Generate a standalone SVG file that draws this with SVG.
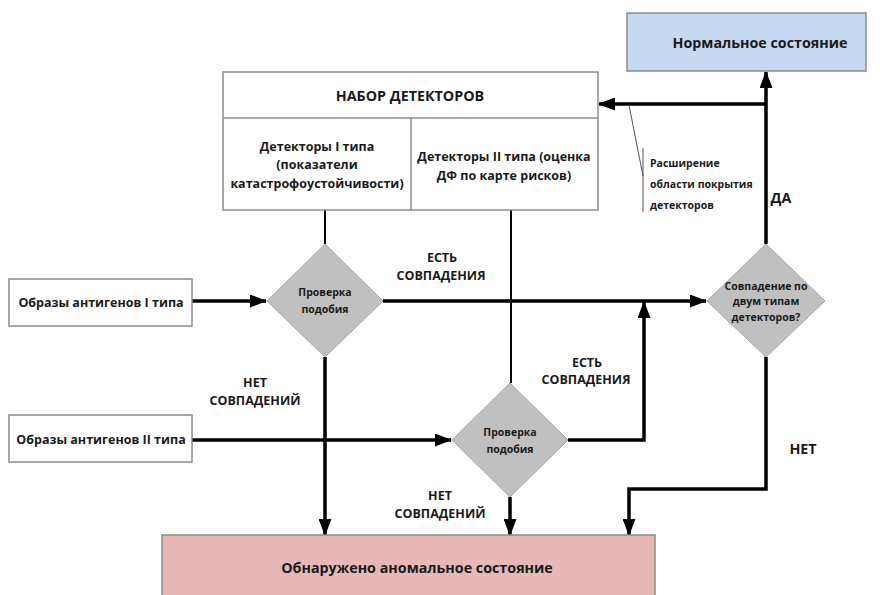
<svg xmlns="http://www.w3.org/2000/svg" width="882" height="595" viewBox="0 0 882 595">
<defs>
<marker id="ah" markerWidth="17" markerHeight="13" refX="16" refY="6.5" orient="auto" markerUnits="userSpaceOnUse">
<path d="M0,0 L17,6.5 L0,13 Z" fill="#000"/>
</marker>
</defs>
<style>
text{font-family:"Open Sans","Liberation Sans",sans-serif;font-weight:bold;fill:#1a1a1a;text-anchor:middle}
.box{fill:#fff;stroke:#8c8c8c;stroke-width:1.5}
.dia{fill:#c0c0c0;stroke:#a6a6a6;stroke-width:1}
.c{fill:none;stroke:#000;stroke-width:3.5}
.t{fill:none;stroke:#000;stroke-width:2}
.s{font-size:12.5px}
.xs{font-size:10.5px}
.lb{font-size:14.3px}
</style>
<rect width="882" height="595" fill="#fff"/>
<g id="connectors">
<line class="t" x1="325" y1="210" x2="325" y2="244"/>
<line class="t" x1="511" y1="210" x2="511" y2="383"/>
<line class="c" x1="192" y1="301" x2="266" y2="301" marker-end="url(#ah)"/>
<line class="c" x1="383" y1="301" x2="706" y2="301" marker-end="url(#ah)"/>
<line class="c" x1="192" y1="440" x2="451" y2="440" marker-end="url(#ah)"/>
<polyline class="c" points="568,440 644,440 644,302" marker-end="url(#ah)"/>
<line class="c" x1="325" y1="357" x2="325" y2="535" marker-end="url(#ah)"/>
<line class="c" x1="510" y1="497" x2="510" y2="535" marker-end="url(#ah)"/>
<polyline class="c" points="766,357 766,489 629,489 629,535" marker-end="url(#ah)"/>
<line class="c" x1="766" y1="244" x2="766" y2="72" marker-end="url(#ah)"/>
<polyline class="c" points="766,104 599,104" marker-end="url(#ah)"/>
<polyline fill="none" stroke="#555" stroke-width="1" points="629,105 643,176"/>
<line stroke="#555" stroke-width="1" x1="643" y1="148" x2="643" y2="212"/>
</g>
<g id="detectors">
<rect class="box" x="223" y="72" width="375" height="138"/>
<line stroke="#8c8c8c" stroke-width="1.5" x1="223" y1="118" x2="598" y2="118"/>
<line stroke="#8c8c8c" stroke-width="1.5" x1="411" y1="118" x2="411" y2="210"/>
<text class="lb" x="410" y="101">НАБОР ДЕТЕКТОРОВ</text>
<text class="s" x="317" y="151">Детекторы I типа</text>
<text class="s" x="317" y="169">(показатели</text>
<text class="s" x="317" y="188">катастрофоустойчивости)</text>
<text class="s" x="504" y="161">Детекторы II типа (оценка</text>
<text class="s" x="504" y="180">ДФ по карте рисков)</text>
</g>
<g id="normal">
<rect x="627" y="13" width="239" height="58" fill="#c6d9f1" stroke="#8c8c8c" stroke-width="1.5"/>
<text class="lb" x="760" y="48">Нормальное состояние</text>
</g>
<g id="antigen1">
<rect class="box" x="9" y="279" width="183" height="47"/>
<text class="s" x="101" y="307">Образы антигенов I типа</text>
</g>
<g id="antigen2">
<rect class="box" x="9" y="415" width="183" height="47"/>
<text class="s" x="101" y="444">Образы антигенов II типа</text>
</g>
<g id="check1">
<polygon class="dia" points="325,244 383,301 325,357 267,301"/>
<text class="xs" x="325" y="296">Проверка</text>
<text class="xs" x="325" y="313">подобия</text>
</g>
<g id="check2">
<polygon class="dia" points="510,383 568,440 510,497 452,440"/>
<text class="xs" x="510" y="436">Проверка</text>
<text class="xs" x="510" y="453">подобия</text>
</g>
<g id="match">
<polygon class="dia" points="766,244 825,301 766,357 707,301"/>
<text class="xs" x="766" y="290">Совпадение по</text>
<text class="xs" x="766" y="305">двум типам</text>
<text class="xs" x="766" y="321">детекторов?</text>
</g>
<g id="anomaly">
<rect x="162" y="535" width="493" height="70" fill="#e6b9b8" stroke="#8c8c8c" stroke-width="1.5"/>
<text class="lb" x="417" y="573">Обнаружено аномальное состояние</text>
</g>
<g id="labels">
<text class="s" x="442" y="262">ЕСТЬ</text>
<text class="s" x="441" y="280">СОВПАДЕНИЯ</text>
<text class="s" x="587" y="367">ЕСТЬ</text>
<text class="s" x="586" y="384">СОВПАДЕНИЯ</text>
<text class="s" x="255" y="387">НЕТ</text>
<text class="s" x="255" y="405">СОВПАДЕНИЙ</text>
<text class="s" x="440" y="500">НЕТ</text>
<text class="s" x="440" y="518">СОВПАДЕНИЙ</text>
<text class="lb" x="803" y="454">НЕТ</text>
<text class="lb" x="781" y="203">ДА</text>
<text class="xs" x="650" y="167" style="text-anchor:start">Расширение</text>
<text class="xs" x="650" y="188" style="text-anchor:start">области покрытия</text>
<text class="xs" x="650" y="209" style="text-anchor:start">детекторов</text>
</g>
</svg>
